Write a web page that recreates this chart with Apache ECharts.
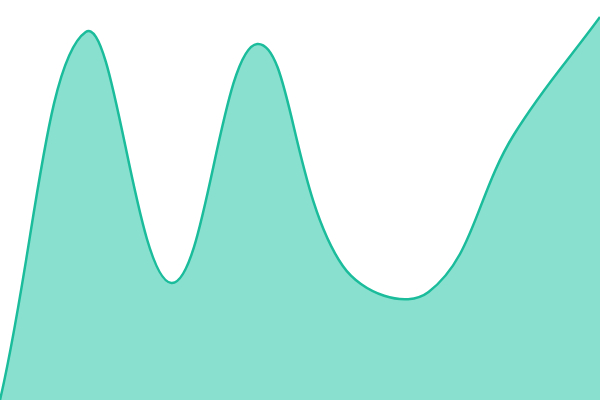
<!DOCTYPE html>
<html>
<head>
<meta charset="utf-8">
<script src="https://cdn.jsdelivr.net/npm/echarts@6/dist/echarts.min.js"></script>
<style>
  html, body { margin: 0; padding: 0; background: #fff; }
  #chart { width: 600px; height: 400px; }
</style>
</head>
<body>
<div id="chart"></div>
<script>
// categories and values
var categories = ['1', '2', '3', '4', '5', '6', '7', '8'];
var values = [0, 368, 117, 356, 134, 108, 266, 383];

var TENSION = 0.4;

function clamp(v, lo, hi) {
	return Math.max(lo, Math.min(hi, v));
}

// spline control points (tension curve, no extreme clamping)
function controlPoints(pts, t, area) {
	var cps = [];
	for (var i = 0; i < pts.length; i++) {
		var prev = pts[i - 1] || pts[i], cur = pts[i], next = pts[i + 1] || pts[i];
		var d01 = Math.sqrt(Math.pow(cur[0] - prev[0], 2) + Math.pow(cur[1] - prev[1], 2));
		var d12 = Math.sqrt(Math.pow(next[0] - cur[0], 2) + Math.pow(next[1] - cur[1], 2));
		var s01 = d01 / (d01 + d12) || 0, s12 = d12 / (d01 + d12) || 0;
		var fa = t * s01, fb = t * s12;
		var dx = next[0] - prev[0], dy = next[1] - prev[1];
		cps.push({
			prev: [clamp(cur[0] - fa * dx, area.x, area.x + area.width), clamp(cur[1] - fa * dy, area.y, area.y + area.height)],
			next: [clamp(cur[0] + fb * dx, area.x, area.x + area.width), clamp(cur[1] + fb * dy, area.y, area.y + area.height)]
		});
	}
	return cps;
}

function renderCurve(params, api) {
	if (params.dataIndex !== 0) return null;
	var area = params.coordSys;
	var pts = values.map(function (v, i) { return api.coord([i, v]); });
	var cps = controlPoints(pts, TENSION, area);
	var d = 'M' + pts[0][0] + ' ' + pts[0][1];
	for (var i = 1; i < pts.length; i++) {
		d += ' C' + cps[i - 1].next.join(' ') + ' ' + cps[i].prev.join(' ') + ' ' + pts[i].join(' ');
	}
	var base = api.coord([0, 0])[1];
	var fill = d + ' L' + pts[pts.length - 1][0] + ' ' + base + ' L' + pts[0][0] + ' ' + base + ' Z';
	return {
		type: 'group',
		children: [{
			type: 'path',
			shape: { pathData: fill },
			style: { fill: '#8ae0cf', stroke: null }
		}, {
			type: 'path',
			shape: { pathData: d },
			style: { fill: null, stroke: '#1abc9c', lineWidth: 2.5 }
		}]
	};
}

var chart = echarts.init(document.getElementById('chart'));

chart.setOption({
	animation: false,
	grid: { left: 0, right: 0, top: 0, bottom: 0 },
	xAxis: {
		type: 'category',
		data: categories,
		boundaryGap: false,
		show: false
	},
	yAxis: {
		type: 'value',
		min: 0,
		max: 400,
		show: false
	},
	series: [{
		type: 'custom',
		clip: true,
		data: values.map(function (v, i) { return [i, v]; }),
		renderItem: renderCurve
	}]
});
</script>
</body>
</html>
